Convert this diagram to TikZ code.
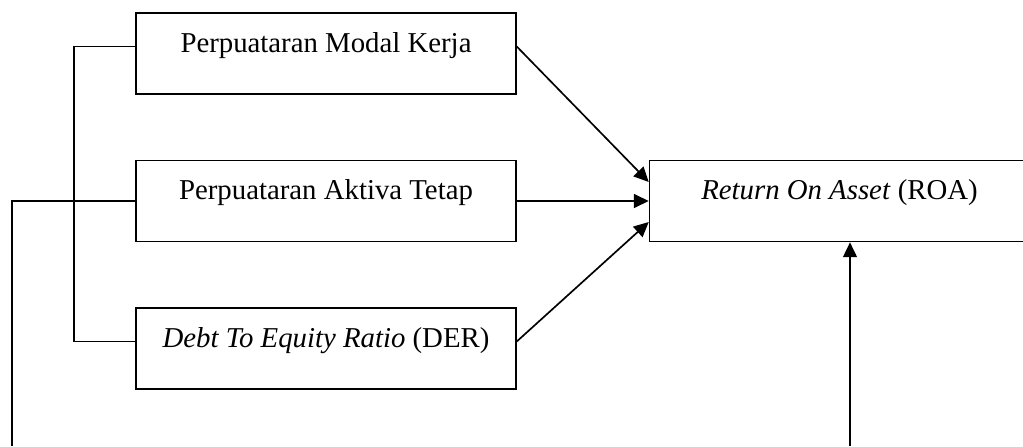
\documentclass[tikz,border=0pt]{standalone}
\usepackage{fontspec}
\setmainfont{Liberation Serif}
\usetikzlibrary{arrows.meta, calc}

\begin{document}
\begin{tikzpicture}[x=0.014646cm, y=-0.014646cm,
    box/.style={draw, line width=0.7pt, inner sep=0pt, minimum width=158.3pt,
      text height=16.25pt, text depth=17.5pt, font=\fontsize{12}{14}\selectfont},
    link/.style={line width=0.7pt},
    arr/.style={link, -{Triangle[length=6.2pt, width=5.8pt]}}]
    \useasboundingbox (0,0) rectangle (1023,446);
    \node[box] (modal) at (326,53.5) {Perpuataran Modal Kerja};
    \node[box] (aktiva) at (326,201) {Perpuataran Aktiva Tetap};
    \node[box] (der) at (326,348.5) {\textit{Debt To Equity Ratio} (DER)};
    \node[box] (roa) at (839.5,201) {\textit{Return On Asset} (ROA)};
    \coordinate (left) at (12,446);
    \coordinate (below) at (850,446);
    % lines on the left
    \draw[link] (modal.mid west) -- ++(-61,0) |- (der.mid west);
    \draw[link] (aktiva.west) -| (left);
    % arrows into ROA
    \draw[arr] (modal.mid east) -- ($(roa.west)+(0,-19)$);
    \draw[arr] (aktiva.east) -- (roa.west);
    \draw[arr] (der.mid east) -- ($(roa.west)+(0,21)$);
    \draw[arr] (below) -- (below |- roa.south);
  \end{tikzpicture}
\end{document}
